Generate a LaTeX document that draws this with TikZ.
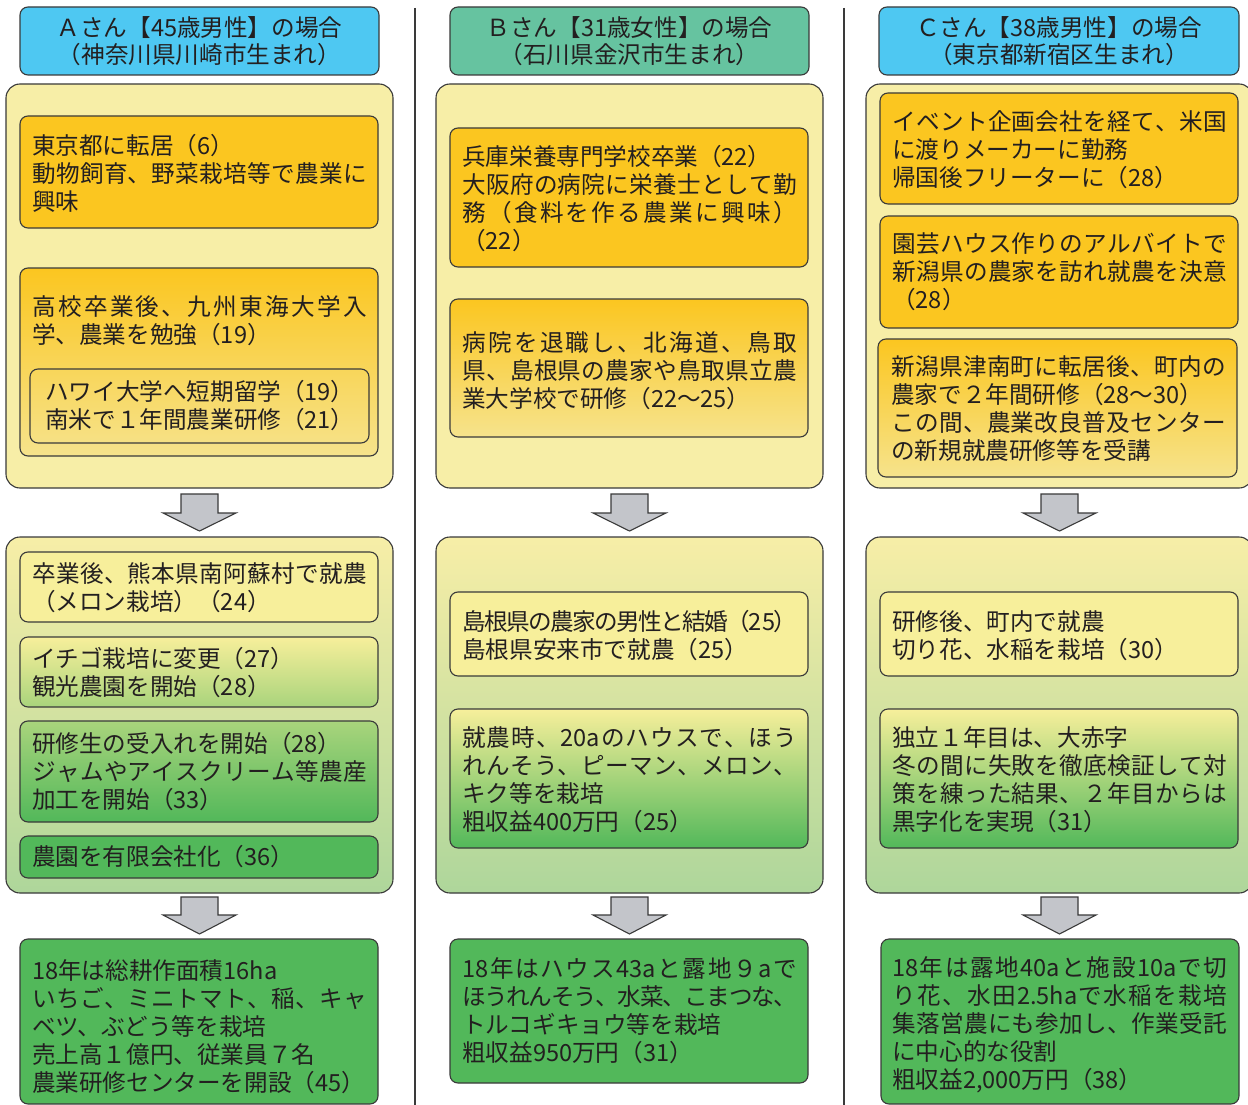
\documentclass[tikz,border=0pt]{standalone}
\usepackage{fontspec}
\setmainfont{Noto Sans CJK JP}
\makeatletter
\newdimen\jlwd \jlwd=335pt
\newcommand\jl[1]{\hbox to \jlwd{\@tfor\jlx:=#1\do{\jlx\hskip 0pt plus 1fil minus 3pt}\unskip}}
\makeatother
\definecolor{linec}{HTML}{3A3A3A}
\definecolor{textc}{HTML}{231F20}
\definecolor{hdrblue}{HTML}{4EC8F2}
\definecolor{hdrgreen}{HTML}{66C3A0}
\definecolor{outeryel}{HTML}{F7EEA7}
\definecolor{outergrn}{HTML}{AED69B}
\definecolor{orange}{HTML}{FBC620}
\definecolor{orangelt}{HTML}{F6E38C}
\definecolor{inneryel}{HTML}{F7EF9B}
\definecolor{ltgreen}{HTML}{A9D47C}
\definecolor{green}{HTML}{52B85A}
\definecolor{arrowg}{HTML}{C3C5CA}
\tikzset{
  bx/.style={draw=linec, line width=1.1pt, rounded corners=8pt},
  obx/.style={draw=linec, line width=1.1pt, rounded corners=14pt},
  txt/.style={anchor=west, align=left, inner sep=0pt, text=textc, font=\fontsize{23.6pt}{28pt}\selectfont},
  hdr/.style={align=center, inner sep=0pt, text=textc, font=\fontsize{23.6pt}{27pt}\selectfont},
  barrow/.style={fill=arrowg, draw=linec, line width=1.1pt, line join=miter},
  sepline/.style={draw=linec, line width=1.2pt}
}
\newcommand\blockarrow[4]{%
  \draw[barrow] (#1-18.5,#2) -- (#1+18.5,#2) -- (#1+18.5,#3) -- (#1+36.5,#3) -- (#1,#4) -- (#1-36.5,#3) -- (#1-18.5,#3) -- cycle;}
\begin{document}
\begin{tikzpicture}[x=1pt,y=-1pt]
\useasboundingbox (0,0) rectangle (1248,1105);
\clip (0,0) rectangle (1248,1105);
\fill[white] (0,0) rectangle (1248,1105);
% separators
\draw[sepline] (415,8) -- (415,1110);
\draw[sepline] (844,8) -- (844,1110);
% headers
\path[bx, fill=hdrblue] (20,7) rectangle (379,75);
\path[bx, fill=hdrgreen] (450,7) rectangle (809,75);
\path[bx, fill=hdrblue] (879,7) rectangle (1239,75);
\node[hdr] (hA) at (199.5,41.5) {Ａさん【45歳男性】の場合\\（神奈川県川崎市生まれ）};
\node[hdr] (hB) at (629.5,41.5) {Ｂさん【31歳女性】の場合\\（石川県金沢市生まれ）};
\node[hdr] (hC) at (1059,41.5) {Ｃさん【38歳男性】の場合\\（東京都新宿区生まれ）};
% outer boxes
\path[obx, fill=outeryel] (6,84) rectangle (393,488);
\path[obx, fill=outeryel] (436,84) rectangle (823,488);
\path[obx, fill=outeryel] (866,84) rectangle (1253,488);
\path[obx, top color=outeryel, bottom color=outergrn] (6,537) rectangle (393,893);
\path[obx, top color=outeryel, bottom color=outergrn] (436,537) rectangle (823,893);
\path[obx, top color=outeryel, bottom color=outergrn] (866,537) rectangle (1253,893);
% column A inner boxes
\path[bx, fill=orange] (20,116) rectangle (378,228);
\path[bx, top color=orange, bottom color=orangelt] (20,268) rectangle (378,456);
\path[bx] (30,369) rectangle (369,443);
\path[bx, fill=inneryel] (20,552) rectangle (378,622);
\path[bx, top color=inneryel, bottom color=ltgreen] (20,637) rectangle (378,707);
\path[bx, top color=ltgreen, bottom color=green] (20,721) rectangle (378,822);
\path[bx, fill=green] (20,836) rectangle (378,878);
\path[bx, fill=green] (20,939) rectangle (378,1104);
% column B inner boxes
\path[bx, fill=orange] (450,128) rectangle (808,267);
\path[bx, top color=orange, bottom color=orangelt] (450,299) rectangle (808,437);
\path[bx, fill=inneryel] (450,592) rectangle (808,676);
\path[bx, top color=inneryel, bottom color=green] (450,709) rectangle (808,848);
\path[bx, fill=green] (450,939) rectangle (808,1083);
% column C inner boxes
\path[bx, fill=orange] (880,93) rectangle (1238,204);
\path[bx, fill=orange] (880,216) rectangle (1238,328);
\path[bx, top color=orange, bottom color=orangelt] (878,339) rectangle (1237,477);
\path[bx, fill=inneryel] (880,592) rectangle (1238,676);
\path[bx, top color=inneryel, bottom color=green] (880,709) rectangle (1238,848);
\path[bx, fill=green] (881,939) rectangle (1239,1104);
% block arrows
\blockarrow{199.5}{494}{513}{531}
\blockarrow{629.5}{494}{513}{531}
\blockarrow{1059.5}{494}{513}{531}
\blockarrow{199.5}{897}{915}{934}
\blockarrow{629.5}{897}{915}{934}
\blockarrow{1059.5}{897}{915}{934}
% texts A
\node[txt] (ta1) at (32,173) {東京都に転居（6）\\\jl{動物飼育、野菜栽培等で農業に}\\興味};
\node[txt] (ta2) at (32,321) {\jl{高校卒業後、九州東海大学入}\\学、農業を勉強（19）};
\node[txt] (ta3) at (45,406) {ハワイ大学へ短期留学（19）\\南米で１年間農業研修（21）};
\node[txt] (ta4) at (32,588) {\jl{卒業後、熊本県南阿蘇村で就農}\\（メロン栽培）（24）};
\node[txt] (ta5) at (32,673) {イチゴ栽培に変更（27）\\観光農園を開始（28）};
\node[txt] (ta6) at (32,772) {研修生の受入れを開始（28）\\\jl{ジャムやアイスクリーム等農産}\\加工を開始（33）};
\node[txt] (ta7) at (32,857) {農園を有限会社化（36）};
\node[txt] (ta8) at (32,1027) {18年は総耕作面積16ha\\\jl{いちご、ミニトマト、稲、キャ}\\ベツ、ぶどう等を栽培\\売上高１億円、従業員７名\\農業研修センターを開設（45）};
% texts B
\node[txt] (tb1) at (462,199) {兵庫栄養専門学校卒業（22）\\\jl{大阪府の病院に栄養士として勤}\\\jl{務（食料を作る農業に興味）}\\（22）};
\node[txt] (tb2) at (462,371) {\jl{病院を退職し、北海道、鳥取}\\\jl{県、島根県の農家や鳥取県立農}\\業大学校で研修（22～25）};
\node[txt] (tb3) at (462,636) {\jl{島根県の農家の男性と結婚（{25}）}\\島根県安来市で就農（25）};
\node[txt] (tb4) at (462,780) {\jl{就農時、{20a}のハウスで、ほう}\\\jl{れんそう、ピーマン、メロン、}\\キク等を栽培\\粗収益400万円（25）};
\node[txt] (tb5) at (462,1011) {\jl{{18}年はハウス{43a}と露地９aで}\\\jl{ほうれんそう、水菜、こまつな、}\\トルコギキョウ等を栽培\\粗収益950万円（31）};
% texts C
\node[txt] (tc1) at (892,150) {\jl{イベント企画会社を経て、米国}\\に渡りメーカーに勤務\\帰国後フリーターに（28）};
\node[txt] (tc2) at (892,272) {\jl{園芸ハウス作りのアルバイトで}\\\jl{新潟県の農家を訪れ就農を決意}\\（28）};
\node[txt] (tc3) at (891,409) {\jl{新潟県津南町に転居後、町内の}\\農家で２年間研修（28～30）\\\jl{この間、農業改良普及センター}\\の新規就農研修等を受講};
\node[txt] (tc4) at (892,636) {研修後、町内で就農\\切り花、水稲を栽培（30）};
\node[txt] (tc5) at (892,780) {独立１年目は、大赤字\\\jl{冬の間に失敗を徹底検証して対}\\\jl{策を練った結果、２年目からは}\\黒字化を実現（31）};
\node[txt] (tc6) at (892,1025) {\jl{{18}年は露地{40a}と施設{10a}で切}\\\jl{り花、水田{2.5ha}で水稲を栽培}\\\jl{集落営農にも参加し、作業受託}\\に中心的な役割\\粗収益2,000万円（38）};
\end{tikzpicture}
\end{document}
